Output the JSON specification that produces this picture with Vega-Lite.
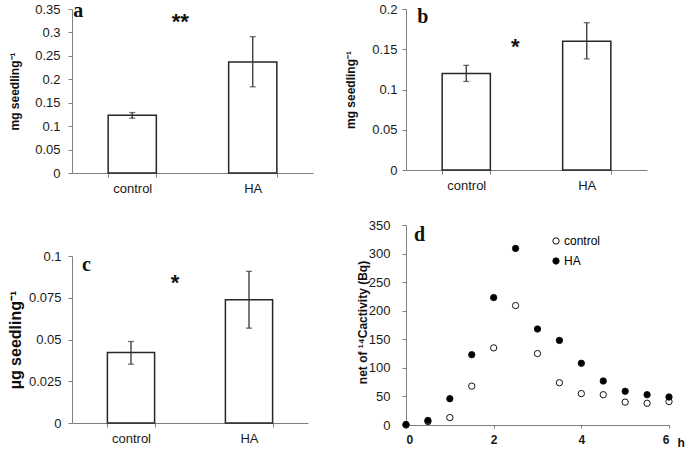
{
  "$schema": "https://vega.github.io/schema/vega-lite/v6.json",
  "padding": {"left": 7, "top": 0, "right": 0, "bottom": 0},
  "background": "white",
  "config": {
    "view": {"stroke": null},
    "font": "Liberation Sans",
    "legend": {"padding": 0},
    "axis": {
      "grid": false,
      "domainColor": "#7f7f7f",
      "tickColor": "#7f7f7f",
      "labelColor": "#1a1a1a",
      "labelFont": "Liberation Sans",
      "labelFontSize": 13,
      "labelOverlap": false,
      "tickSize": 4,
      "titleFont": "Liberation Sans",
      "titleFontWeight": "bold",
      "titleFontSize": 12,
      "titleColor": "#111"
    }
  },
  "datasets": {
    "a": [
      {"group": "control", "mean": 0.123, "lo": 0.117, "hi": 0.129},
      {"group": "HA", "mean": 0.237, "lo": 0.184, "hi": 0.291}
    ],
    "b": [
      {"group": "control", "mean": 0.12, "lo": 0.11, "hi": 0.13},
      {"group": "HA", "mean": 0.16, "lo": 0.138, "hi": 0.183}
    ],
    "c": [
      {"group": "control", "mean": 0.0422, "lo": 0.0352, "hi": 0.0488},
      {"group": "HA", "mean": 0.0738, "lo": 0.0568, "hi": 0.0908}
    ],
    "d": [
      {"h": 0, "treatment": "control", "bq": 0},
      {"h": 0.5, "treatment": "control", "bq": 6},
      {"h": 1, "treatment": "control", "bq": 13},
      {"h": 1.5, "treatment": "control", "bq": 68},
      {"h": 2, "treatment": "control", "bq": 135},
      {"h": 2.5, "treatment": "control", "bq": 209},
      {"h": 3, "treatment": "control", "bq": 125},
      {"h": 3.5, "treatment": "control", "bq": 74},
      {"h": 4, "treatment": "control", "bq": 55},
      {"h": 4.5, "treatment": "control", "bq": 53},
      {"h": 5, "treatment": "control", "bq": 40},
      {"h": 5.5, "treatment": "control", "bq": 38},
      {"h": 6, "treatment": "control", "bq": 41},
      {"h": 0, "treatment": "HA", "bq": 1},
      {"h": 0.5, "treatment": "HA", "bq": 8},
      {"h": 1, "treatment": "HA", "bq": 46},
      {"h": 1.5, "treatment": "HA", "bq": 123},
      {"h": 2, "treatment": "HA", "bq": 223},
      {"h": 2.5, "treatment": "HA", "bq": 309},
      {"h": 3, "treatment": "HA", "bq": 168},
      {"h": 3.5, "treatment": "HA", "bq": 148},
      {"h": 4, "treatment": "HA", "bq": 108},
      {"h": 4.5, "treatment": "HA", "bq": 77},
      {"h": 5, "treatment": "HA", "bq": 59},
      {"h": 5.5, "treatment": "HA", "bq": 53},
      {"h": 6, "treatment": "HA", "bq": 49}
    ],
    "labA": [{"t": "a", "group": "control", "y": 0.346}],
    "starA": [{"t": "**", "group": "control", "y": 0.33}],
    "labB": [{"t": "b", "group": "control", "y": 0.19}],
    "starB": [{"t": "*", "group": "control", "y": 0.158}],
    "labC": [{"t": "c", "group": "control", "y": 0.0946}],
    "starC": [{"t": "*", "group": "control", "y": 0.0852}],
    "labD": [{"t": "d", "h": 0.18, "y": 333}]
  },
  "resolve": {"legend": {"fill": "independent"}},
  "hconcat": [
    {
      "spacing": 55,
      "vconcat": [
        {
          "width": 241, "height": 164,
          "encoding": {
            "x": {"field": "group", "type": "nominal", "sort": ["control", "HA"],
              "scale": {"domain": ["control", "HA"], "paddingInner": 0.6, "paddingOuter": 0.3},
              "axis": {"title": null, "labelAngle": 0, "tickBand": "extent", "labelPadding": 5}}
          },
          "layer": [
            {"data": {"name": "a"}, "mark": {"type": "bar", "fill": "white", "stroke": "#262626", "strokeWidth": 1.5},
              "encoding": {"y": {"field": "mean", "type": "quantitative", "scale": {"domain": [0, 0.35], "nice": false},
                "axis": {"title": "mg seedling⁻¹", "values": [0, 0.05, 0.1, 0.15, 0.2, 0.25, 0.3, 0.35], "labelExpr": "'' + datum.value", "labelPadding": 8, "titlePadding": 13}}}},
            {"data": {"name": "a"}, "mark": {"type": "rule", "color": "#333", "strokeWidth": 1.3},
              "encoding": {"y": {"field": "lo", "type": "quantitative", "axis": {"title": "mg seedling⁻¹", "values": [0, 0.05, 0.1, 0.15, 0.2, 0.25, 0.3, 0.35], "labelExpr": "'' + datum.value", "labelPadding": 8, "titlePadding": 13}}, "y2": {"field": "hi"}}},
            {"data": {"name": "a"}, "mark": {"type": "tick", "color": "#333", "size": 6, "thickness": 1.3, "orient": "horizontal"},
              "encoding": {"y": {"field": "lo", "type": "quantitative", "axis": {"title": "mg seedling⁻¹", "values": [0, 0.05, 0.1, 0.15, 0.2, 0.25, 0.3, 0.35], "labelExpr": "'' + datum.value", "labelPadding": 8, "titlePadding": 13}}}},
            {"data": {"name": "a"}, "mark": {"type": "tick", "color": "#333", "size": 6, "thickness": 1.3, "orient": "horizontal"},
              "encoding": {"y": {"field": "hi", "type": "quantitative", "axis": {"title": "mg seedling⁻¹", "values": [0, 0.05, 0.1, 0.15, 0.2, 0.25, 0.3, 0.35], "labelExpr": "'' + datum.value", "labelPadding": 8, "titlePadding": 13}}}},
            {"data": {"name": "labA"}, "mark": {"type": "text", "font": "Liberation Serif", "fontWeight": "bold", "fontSize": 20, "align": "left", "baseline": "middle", "dx": -59, "color": "#111"},
              "encoding": {"y": {"field": "y", "type": "quantitative", "axis": {"title": "mg seedling⁻¹", "values": [0, 0.05, 0.1, 0.15, 0.2, 0.25, 0.3, 0.35], "labelExpr": "'' + datum.value", "labelPadding": 8, "titlePadding": 13}}, "text": {"field": "t"}}},
            {"data": {"name": "starA"}, "mark": {"type": "text", "font": "Liberation Sans", "fontWeight": "bold", "fontSize": 22, "align": "center", "baseline": "middle", "dx": 48, "dy": 4, "color": "#111"},
              "encoding": {"y": {"field": "y", "type": "quantitative", "axis": {"title": "mg seedling⁻¹", "values": [0, 0.05, 0.1, 0.15, 0.2, 0.25, 0.3, 0.35], "labelExpr": "'' + datum.value", "labelPadding": 8, "titlePadding": 13}}, "text": {"field": "t"}}}
          ]
        },
        {
          "width": 236, "height": 167,
          "encoding": {
            "x": {"field": "group", "type": "nominal", "sort": ["control", "HA"],
              "scale": {"domain": ["control", "HA"], "paddingInner": 0.6, "paddingOuter": 0.3},
              "axis": {"title": null, "labelAngle": 0, "tickBand": "extent", "labelPadding": 5}}
          },
          "layer": [
            {"data": {"name": "c"}, "mark": {"type": "bar", "fill": "white", "stroke": "#262626", "strokeWidth": 1.5},
              "encoding": {"y": {"field": "mean", "type": "quantitative", "scale": {"domain": [0, 0.1], "nice": false},
                "axis": {"title": "µg seedling⁻¹", "titleFontSize": 16, "values": [0, 0.025, 0.05, 0.075, 0.1], "labelExpr": "'' + datum.value", "labelPadding": 7, "titlePadding": 5}}}},
            {"data": {"name": "c"}, "mark": {"type": "rule", "color": "#333", "strokeWidth": 1.3},
              "encoding": {"y": {"field": "lo", "type": "quantitative", "axis": {"title": "µg seedling⁻¹", "titleFontSize": 16, "values": [0, 0.025, 0.05, 0.075, 0.1], "labelExpr": "'' + datum.value", "labelPadding": 7, "titlePadding": 5}}, "y2": {"field": "hi"}}},
            {"data": {"name": "c"}, "mark": {"type": "tick", "color": "#333", "size": 6, "thickness": 1.3, "orient": "horizontal"},
              "encoding": {"y": {"field": "lo", "type": "quantitative", "axis": {"title": "µg seedling⁻¹", "titleFontSize": 16, "values": [0, 0.025, 0.05, 0.075, 0.1], "labelExpr": "'' + datum.value", "labelPadding": 7, "titlePadding": 5}}}},
            {"data": {"name": "c"}, "mark": {"type": "tick", "color": "#333", "size": 6, "thickness": 1.3, "orient": "horizontal"},
              "encoding": {"y": {"field": "hi", "type": "quantitative", "axis": {"title": "µg seedling⁻¹", "titleFontSize": 16, "values": [0, 0.025, 0.05, 0.075, 0.1], "labelExpr": "'' + datum.value", "labelPadding": 7, "titlePadding": 5}}}},
            {"data": {"name": "labC"}, "mark": {"type": "text", "font": "Liberation Serif", "fontWeight": "bold", "fontSize": 20, "align": "left", "baseline": "middle", "dx": -49, "color": "#111"},
              "encoding": {"y": {"field": "y", "type": "quantitative", "axis": {"title": "µg seedling⁻¹", "titleFontSize": 16, "values": [0, 0.025, 0.05, 0.075, 0.1], "labelExpr": "'' + datum.value", "labelPadding": 7, "titlePadding": 5}}, "text": {"field": "t"}}},
            {"data": {"name": "starC"}, "mark": {"type": "text", "font": "Liberation Sans", "fontWeight": "bold", "fontSize": 22, "align": "center", "baseline": "middle", "dx": 44, "dy": 2, "color": "#111"},
              "encoding": {"y": {"field": "y", "type": "quantitative", "axis": {"title": "µg seedling⁻¹", "titleFontSize": 16, "values": [0, 0.025, 0.05, 0.075, 0.1], "labelExpr": "'' + datum.value", "labelPadding": 7, "titlePadding": 5}}, "text": {"field": "t"}}}
          ]
        }
      ]
    },
    {
      "spacing": 27,
      "resolve": {"legend": {"fill": "independent"}},
      "vconcat": [
        {
          "width": 241, "height": 161,
          "encoding": {
            "x": {"field": "group", "type": "nominal", "sort": ["control", "HA"],
              "scale": {"domain": ["control", "HA"], "paddingInner": 0.6, "paddingOuter": 0.3},
              "axis": {"title": null, "labelAngle": 0, "tickBand": "extent", "labelPadding": 5}}
          },
          "layer": [
            {"data": {"name": "b"}, "mark": {"type": "bar", "fill": "white", "stroke": "#262626", "strokeWidth": 1.5},
              "encoding": {"y": {"field": "mean", "type": "quantitative", "scale": {"domain": [0, 0.2], "nice": false},
                "axis": {"title": "mg seedling⁻¹", "values": [0, 0.05, 0.1, 0.15, 0.2], "labelExpr": "'' + datum.value", "labelPadding": 5, "titlePadding": 14}}}},
            {"data": {"name": "b"}, "mark": {"type": "rule", "color": "#333", "strokeWidth": 1.3},
              "encoding": {"y": {"field": "lo", "type": "quantitative", "axis": {"title": "mg seedling⁻¹", "values": [0, 0.05, 0.1, 0.15, 0.2], "labelExpr": "'' + datum.value", "labelPadding": 5, "titlePadding": 14}}, "y2": {"field": "hi"}}},
            {"data": {"name": "b"}, "mark": {"type": "tick", "color": "#333", "size": 6, "thickness": 1.3, "orient": "horizontal"},
              "encoding": {"y": {"field": "lo", "type": "quantitative", "axis": {"title": "mg seedling⁻¹", "values": [0, 0.05, 0.1, 0.15, 0.2], "labelExpr": "'' + datum.value", "labelPadding": 5, "titlePadding": 14}}}},
            {"data": {"name": "b"}, "mark": {"type": "tick", "color": "#333", "size": 6, "thickness": 1.3, "orient": "horizontal"},
              "encoding": {"y": {"field": "hi", "type": "quantitative", "axis": {"title": "mg seedling⁻¹", "values": [0, 0.05, 0.1, 0.15, 0.2], "labelExpr": "'' + datum.value", "labelPadding": 5, "titlePadding": 14}}}},
            {"data": {"name": "labB"}, "mark": {"type": "text", "font": "Liberation Serif", "fontWeight": "bold", "fontSize": 20, "align": "left", "baseline": "middle", "dx": -49, "color": "#111"},
              "encoding": {"y": {"field": "y", "type": "quantitative", "axis": {"title": "mg seedling⁻¹", "values": [0, 0.05, 0.1, 0.15, 0.2], "labelExpr": "'' + datum.value", "labelPadding": 5, "titlePadding": 14}}, "text": {"field": "t"}}},
            {"data": {"name": "starB"}, "mark": {"type": "text", "font": "Liberation Sans", "fontWeight": "bold", "fontSize": 22, "align": "center", "baseline": "middle", "dx": 49, "dy": 4, "color": "#111"},
              "encoding": {"y": {"field": "y", "type": "quantitative", "axis": {"title": "mg seedling⁻¹", "values": [0, 0.05, 0.1, 0.15, 0.2], "labelExpr": "'' + datum.value", "labelPadding": 5, "titlePadding": 14}}, "text": {"field": "t"}}}
          ]
        },
        {
          "width": 263, "height": 200,
          "layer": [
            {"data": {"name": "d"}, "mark": {"type": "point", "shape": "circle", "filled": true, "stroke": "#111", "strokeWidth": 1, "size": 40, "opacity": 1},
              "encoding": {
                "x": {"field": "h", "type": "quantitative", "scale": {"domain": [0, 6], "nice": false},
                  "axis": {"values": [0, 2, 4, 6], "labelFontWeight": "bold", "labelFontSize": 12, "labelPadding": 6, "tickSize": 3, "title": "h", "titleX": 271, "titleY": 17, "titleAlign": "left", "titleBaseline": "middle", "titleFontSize": 12}},
                "y": {"field": "bq", "type": "quantitative", "scale": {"domain": [0, 350], "nice": false},
                  "axis": {"values": [0, 50, 100, 150, 200, 250, 300, 350], "title": "net of ¹⁴Cactivity (Bq)", "labelPadding": 12, "titleX": -37, "titleY": 97}},
                "fill": {"field": "treatment", "type": "nominal", "scale": {"domain": ["control", "HA"], "range": ["white", "black"]},
                  "legend": {"title": null, "orient": "none", "legendX": 144, "legendY": 10, "symbolType": "circle", "symbolSize": 40, "symbolStrokeColor": "#111", "symbolStrokeWidth": 1, "labelFontSize": 12, "labelFont": "Liberation Sans", "rowPadding": 8, "labelOffset": 2}}
              }},
            {"data": {"name": "labD"}, "mark": {"type": "text", "font": "Liberation Serif", "fontWeight": "bold", "fontSize": 20, "align": "left", "baseline": "middle", "color": "#111"},
              "encoding": {"x": {"field": "h", "type": "quantitative", "axis": {"values": [0, 2, 4, 6], "labelFontWeight": "bold", "labelFontSize": 12, "labelPadding": 6, "tickSize": 3, "title": "h", "titleX": 271, "titleY": 17, "titleAlign": "left", "titleBaseline": "middle", "titleFontSize": 12}},
                "y": {"field": "y", "type": "quantitative", "axis": {"values": [0, 50, 100, 150, 200, 250, 300, 350], "title": "net of ¹⁴Cactivity (Bq)", "labelPadding": 12, "titleX": -37, "titleY": 97}},
                "text": {"field": "t"}}}
          ]
        }
      ]
    }
  ],
  "spacing": 31
}
